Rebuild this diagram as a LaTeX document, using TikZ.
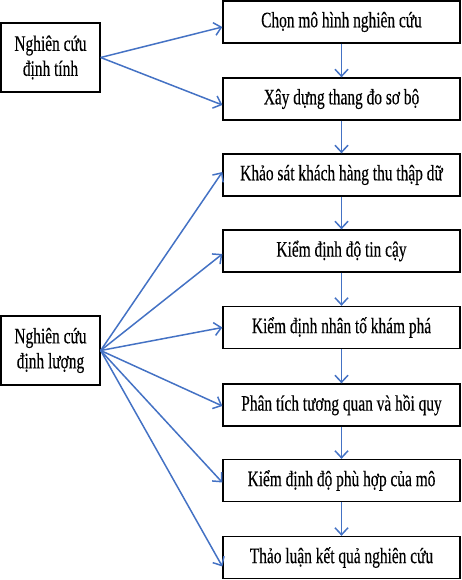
\documentclass[tikz,border=0pt]{standalone}
\usepackage{fontspec}
\setmainfont{Liberation Serif}
\newfontfamily\boxfont[FakeStretch=0.7,FakeBold=0.3]{Liberation Serif}
\usetikzlibrary{arrows.meta}
\definecolor{arrblue}{HTML}{4472C4}
\tikzset{
  rbox/.style={draw=black, line width=1.3pt, minimum width=237pt, minimum height=42pt, inner sep=0pt, font=\boxfont\fontsize{22}{25}\selectfont},
  lbox/.style={draw=black, line width=1.3pt, minimum width=99pt, minimum height=69pt, inner sep=0pt, align=center, font=\boxfont\fontsize{22}{25}\selectfont},
  conn/.style={draw=arrblue, line width=1.5pt, -{Straight Barb[length=7pt,width=13pt,line width=1.5pt]}}
}
\begin{document}
\begin{tikzpicture}[x=1pt,y=-1pt]
\useasboundingbox (0,0) rectangle (461,580);
\node[lbox] (l1) at (50.5,57.5) {Nghiên cứu\\định tính};
\node[lbox] (l2) at (50.5,350.5) {Nghiên cứu\\định lượng};
\node[rbox] (r1) at (341.5,22) {Chọn mô hình nghiên cứu};
\node[rbox] (r2) at (341.5,99) {Xây dựng thang đo sơ bộ};
\node[rbox] (r3) at (341.5,175) {Khảo sát khách hàng thu thập dữ};
\node[rbox] (r4) at (341.5,251) {Kiểm định độ tin cậy};
\node[rbox] (r5) at (341.5,327.5) {Kiểm định nhân tố khám phá};
\node[rbox] (r6) at (341.5,405) {Phân tích tương quan và hồi quy};
\node[rbox] (r7) at (341.5,480.5) {Kiểm định độ phù hợp của mô};
\node[rbox] (r8) at (341.5,557.5) {Thảo luận kết quả nghiên cứu};
\draw[conn] (l1.east) -- ([yshift=-5pt]r1.west);
\draw[conn] (l1.east) -- ([yshift=-6pt]r2.west);
\draw[conn] (l2.east) -- ([yshift=3pt]r3.west);
\draw[conn] (l2.east) -- ([yshift=-3pt]r4.west);
\draw[conn] (l2.east) -- (r5.west);
\draw[conn] (l2.east) -- ([yshift=-1pt]r6.west);
\draw[conn] (l2.east) -- ([yshift=-2pt]r7.west);
\draw[conn] (l2.east) -- ([yshift=-9pt]r8.west);
\draw[conn] (r1.south) -- (r2.north);
\draw[conn] (r2.south) -- (r3.north);
\draw[conn] (r3.south) -- (r4.north);
\draw[conn] (r4.south) -- (r5.north);
\draw[conn] (r5.south) -- (r6.north);
\draw[conn] (r6.south) -- (r7.north);
\draw[conn] (r7.south) -- (r8.north);
\end{tikzpicture}
\end{document}
